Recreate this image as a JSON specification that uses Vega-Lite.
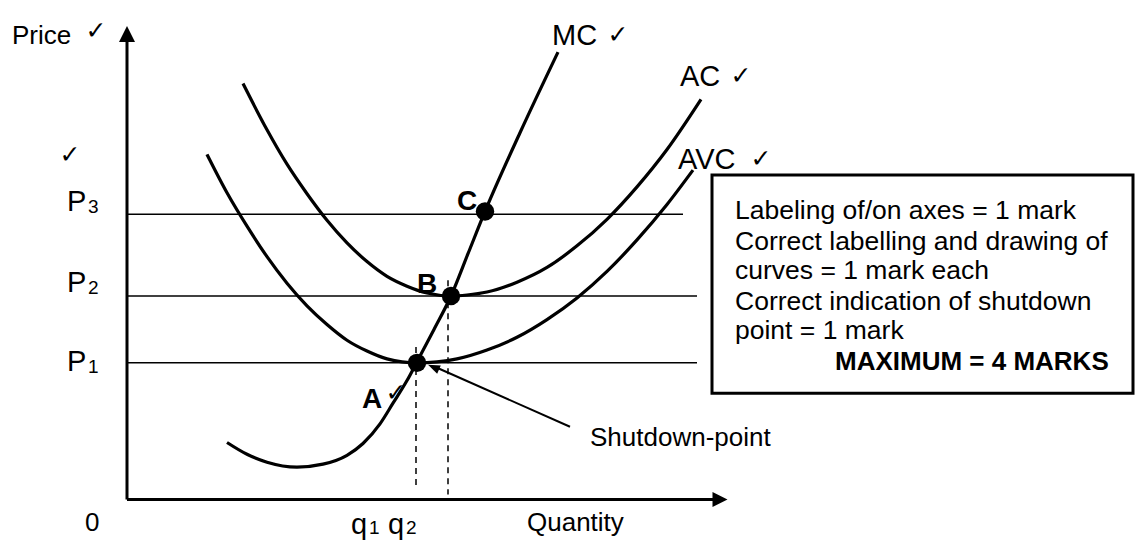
{
  "$schema": "https://vega.github.io/schema/vega-lite/v6.json",
  "width": 1136,
  "height": 540,
  "padding": 0,
  "autosize": {"type": "fit", "contains": "padding"},
  "background": "white",
  "config": {"view": {"stroke": null}},
  "datasets": {
    "curves": [
      {"curve": "MC", "q": 100, "p": 58},
      {"curve": "MC", "q": 120, "p": 46},
      {"curve": "MC", "q": 140, "p": 38},
      {"curve": "MC", "q": 170, "p": 33},
      {"curve": "MC", "q": 196, "p": 36},
      {"curve": "MC", "q": 220, "p": 45},
      {"curve": "MC", "q": 236, "p": 57},
      {"curve": "MC", "q": 253, "p": 77},
      {"curve": "MC", "q": 266, "p": 98},
      {"curve": "MC", "q": 280, "p": 121},
      {"curve": "MC", "q": 290, "p": 140},
      {"curve": "MC", "q": 307, "p": 173},
      {"curve": "MC", "q": 324, "p": 207},
      {"curve": "MC", "q": 341, "p": 250},
      {"curve": "MC", "q": 358, "p": 293},
      {"curve": "MC", "q": 393, "p": 373},
      {"curve": "MC", "q": 431, "p": 455},
      {"curve": "AC", "q": 116, "p": 423},
      {"curve": "AC", "q": 140, "p": 376},
      {"curve": "AC", "q": 160, "p": 341},
      {"curve": "AC", "q": 180, "p": 311},
      {"curve": "AC", "q": 200, "p": 284},
      {"curve": "AC", "q": 220, "p": 261},
      {"curve": "AC", "q": 240, "p": 242},
      {"curve": "AC", "q": 260, "p": 227},
      {"curve": "AC", "q": 280, "p": 217},
      {"curve": "AC", "q": 300, "p": 210},
      {"curve": "AC", "q": 324, "p": 207},
      {"curve": "AC", "q": 340, "p": 208},
      {"curve": "AC", "q": 360, "p": 211},
      {"curve": "AC", "q": 390, "p": 221},
      {"curve": "AC", "q": 420, "p": 236},
      {"curve": "AC", "q": 450, "p": 258},
      {"curve": "AC", "q": 480, "p": 285},
      {"curve": "AC", "q": 510, "p": 318},
      {"curve": "AC", "q": 540, "p": 356},
      {"curve": "AC", "q": 574, "p": 407},
      {"curve": "AVC", "q": 80, "p": 351},
      {"curve": "AVC", "q": 100, "p": 312},
      {"curve": "AVC", "q": 120, "p": 278},
      {"curve": "AVC", "q": 140, "p": 247},
      {"curve": "AVC", "q": 160, "p": 220},
      {"curve": "AVC", "q": 180, "p": 197},
      {"curve": "AVC", "q": 200, "p": 178},
      {"curve": "AVC", "q": 220, "p": 162},
      {"curve": "AVC", "q": 240, "p": 151},
      {"curve": "AVC", "q": 260, "p": 143},
      {"curve": "AVC", "q": 290, "p": 139},
      {"curve": "AVC", "q": 310, "p": 140},
      {"curve": "AVC", "q": 330, "p": 143},
      {"curve": "AVC", "q": 360, "p": 152},
      {"curve": "AVC", "q": 390, "p": 165},
      {"curve": "AVC", "q": 420, "p": 183},
      {"curve": "AVC", "q": 450, "p": 205},
      {"curve": "AVC", "q": 480, "p": 232},
      {"curve": "AVC", "q": 510, "p": 264},
      {"curve": "AVC", "q": 540, "p": 300},
      {"curve": "AVC", "q": 566, "p": 335}
    ],
    "levels": [
      {"level": "P3", "q": 0, "q2": 556, "p": 290},
      {"level": "P2", "q": 0, "q2": 570, "p": 207},
      {"level": "P1", "q": 0, "q2": 570, "p": 139}
    ],
    "dashes": [
      {"quantity": "q1", "q": 289, "p": 155, "p2": 11},
      {"quantity": "q2", "q": 321, "p": 223, "p2": 5}
    ],
    "axislines": [
      {"axis": "price", "q": 0, "p": 0, "q2": 0, "p2": 468},
      {"axis": "quantity", "q": 0, "p": 0, "q2": 588, "p2": 0}
    ],
    "pointer": [
      {"q": 443, "p": 74, "q2": 310, "p2": 134}
    ],
    "heads": [
      {"kind": "price", "q": 0, "p": 473.5},
      {"kind": "quantity", "q": 593, "p": 0},
      {"kind": "pointer", "q": 306.5, "p": 134.6}
    ],
    "points": [
      {"name": "A", "q": 290, "p": 139},
      {"name": "B", "q": 324, "p": 207},
      {"name": "C", "q": 358, "p": 293}
    ],
    "biglabels": [
      {"text": "P", "q": -60, "p": 303},
      {"text": "P", "q": -60, "p": 220},
      {"text": "P", "q": -60, "p": 140},
      {"text": "MC", "q": 425, "p": 471},
      {"text": "AC", "q": 553, "p": 430},
      {"text": "AVC", "q": 551, "p": 345},
      {"text": "q", "q": 224, "p": -26},
      {"text": "q", "q": 261, "p": -26}
    ],
    "labels": [
      {"text": "Price", "q": -115, "p": 471},
      {"text": "0", "q": -42, "p": -24},
      {"text": "Quantity", "q": 400, "p": -24},
      {"text": "Shutdown-point", "q": 463, "p": 63}
    ],
    "subs": [
      {"text": "3", "q": -39, "p": 298},
      {"text": "2", "q": -39, "p": 215},
      {"text": "1", "q": -39, "p": 135},
      {"text": "1", "q": 242, "p": -29},
      {"text": "2", "q": 279, "p": -29}
    ],
    "letters": [
      {"text": "A", "q": 235, "p": 101},
      {"text": "B", "q": 290, "p": 218},
      {"text": "C", "q": 330, "p": 303}
    ],
    "checks": [
      {"text": "✓", "q": -31, "p": 476},
      {"text": "✓", "q": 491, "p": 472},
      {"text": "✓", "q": 614, "p": 431},
      {"text": "✓", "q": 634, "p": 346},
      {"text": "✓", "q": -57, "p": 350},
      {"text": "✓", "q": 269, "p": 108}
    ],
    "box": [
      {"q": 585, "q2": 1006, "p": 330, "p2": 108}
    ],
    "boxlines": [
      {"text": "Labeling of/on axes = 1 mark", "q": 608, "p": 293},
      {"text": "Correct labelling and drawing of", "q": 608, "p": 262},
      {"text": "curves = 1 mark each", "q": 608, "p": 232},
      {"text": "Correct indication of shutdown", "q": 608, "p": 201},
      {"text": "point = 1 mark", "q": 608, "p": 171}
    ],
    "boxbold": [
      {"text": "MAXIMUM = 4 MARKS", "q": 708, "p": 140}
    ]
  },
  "encoding": {
    "x": {"field": "q", "type": "quantitative", "scale": {"domain": [-127, 1009], "nice": false, "zero": false}, "axis": null},
    "y": {"field": "p", "type": "quantitative", "scale": {"domain": [-32, 508], "nice": false, "zero": false}, "axis": null}
  },
  "layer": [
    {
      "data": {"name": "box"},
      "mark": {"type": "rect", "fill": "white", "stroke": "black", "strokeWidth": 3},
      "encoding": {"x2": {"field": "q2"}, "y2": {"field": "p2"}}
    },
    {
      "data": {"name": "levels"},
      "mark": {"type": "rule", "color": "black", "strokeWidth": 1.5},
      "encoding": {"x2": {"field": "q2"}}
    },
    {
      "data": {"name": "dashes"},
      "mark": {"type": "rule", "color": "black", "strokeWidth": 1.5, "strokeDash": [6, 5]},
      "encoding": {"y2": {"field": "p2"}}
    },
    {
      "data": {"name": "curves"},
      "mark": {"type": "line", "color": "black", "strokeWidth": 3.2, "interpolate": "monotone"},
      "encoding": {"detail": {"field": "curve"}}
    },
    {
      "data": {"name": "axislines"},
      "mark": {"type": "rule", "color": "black", "strokeWidth": 3},
      "encoding": {"x2": {"field": "q2"}, "y2": {"field": "p2"}}
    },
    {
      "data": {"name": "pointer"},
      "mark": {"type": "rule", "color": "black", "strokeWidth": 2},
      "encoding": {"x2": {"field": "q2"}, "y2": {"field": "p2"}}
    },
    {
      "data": {"name": "heads"},
      "transform": [{"filter": "datum.kind === 'price'"}],
      "mark": {"type": "point", "shape": "M0,-1L1,1L-1,1Z", "filled": true, "color": "black", "opacity": 1, "size": 256}
    },
    {
      "data": {"name": "heads"},
      "transform": [{"filter": "datum.kind === 'quantity'"}],
      "mark": {"type": "point", "shape": "M1,0L-1,-1L-1,1Z", "filled": true, "color": "black", "opacity": 1, "size": 225}
    },
    {
      "data": {"name": "heads"},
      "transform": [{"filter": "datum.kind === 'pointer'"}],
      "mark": {"type": "point", "shape": "M1,0L-1,-0.75L-1,0.75Z", "filled": true, "color": "black", "opacity": 1, "size": 144, "angle": 204}
    },
    {
      "data": {"name": "points"},
      "mark": {"type": "point", "shape": "circle", "filled": true, "color": "black", "opacity": 1, "size": 340}
    },
    {
      "data": {"name": "biglabels"},
      "mark": {"type": "text", "font": "Liberation Sans", "fontSize": 29, "align": "left", "color": "black"},
      "encoding": {"text": {"field": "text"}}
    },
    {
      "data": {"name": "labels"},
      "mark": {"type": "text", "font": "Liberation Sans", "fontSize": 26, "align": "left", "color": "black"},
      "encoding": {"text": {"field": "text"}}
    },
    {
      "data": {"name": "subs"},
      "mark": {"type": "text", "font": "Liberation Sans", "fontSize": 19, "align": "left", "color": "black"},
      "encoding": {"text": {"field": "text"}}
    },
    {
      "data": {"name": "letters"},
      "mark": {"type": "text", "font": "Liberation Sans", "fontSize": 28, "fontWeight": "bold", "align": "left", "color": "black"},
      "encoding": {"text": {"field": "text"}}
    },
    {
      "data": {"name": "checks"},
      "mark": {"type": "text", "font": "DejaVu Sans", "fontSize": 25, "align": "center", "color": "black"},
      "encoding": {"text": {"field": "text"}}
    },
    {
      "data": {"name": "boxlines"},
      "mark": {"type": "text", "font": "Liberation Sans", "fontSize": 26.5, "align": "left", "color": "black"},
      "encoding": {"text": {"field": "text"}}
    },
    {
      "data": {"name": "boxbold"},
      "mark": {"type": "text", "font": "Liberation Sans", "fontSize": 26, "fontWeight": "bold", "align": "left", "color": "black"},
      "encoding": {"text": {"field": "text"}}
    }
  ]
}
